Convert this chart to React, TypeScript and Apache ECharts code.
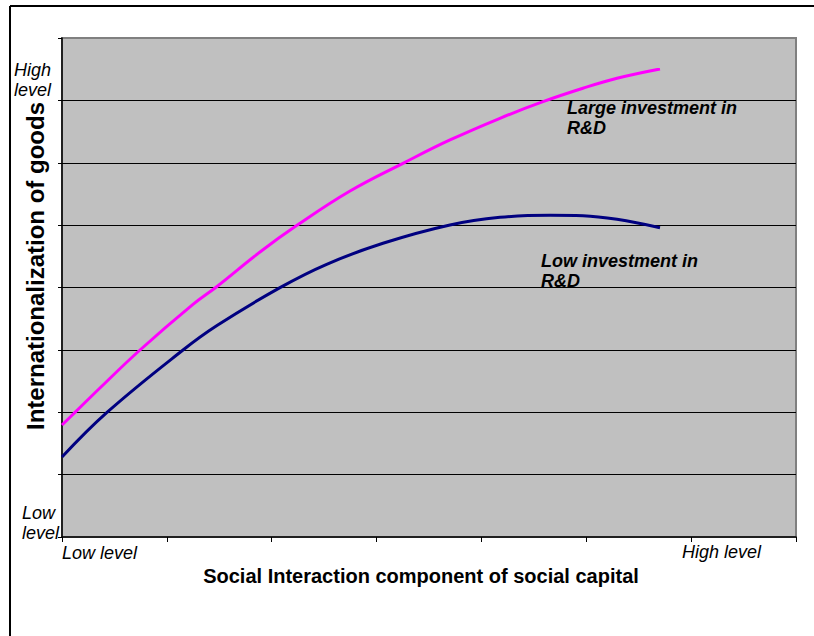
import React, { useEffect, useRef } from "react";
import * as echarts from "echarts";

const largeX = [0, 0.124, 0.362, 0.744, 1.249, 1.478, 1.888, 2.241, 2.747, 3.271, 3.7, 4.177, 4.587, 4.968, 5.293, 5.703];
const largeY = [1.796, 1.998, 2.389, 2.998, 3.729, 4.016, 4.569, 4.997, 5.547, 6.007, 6.365, 6.713, 6.979, 7.194, 7.354, 7.503];
const lowX = [0, 0.429, 1.154, 1.478, 2.079, 2.524, 3.061, 3.7, 4.177, 4.654, 4.969, 5.293, 5.703];
const lowY = [1.283, 1.998, 2.998, 3.391, 3.998, 4.372, 4.709, 5.002, 5.125, 5.158, 5.151, 5.093, 4.959];

const xTickLabels = ["Low level", "High level"];
const yTickLabels = ["High\nlevel", "Low\nlevel"];
const xTitle = "Social Interaction component of social capital";
const yTitle = "Internationalization of goods";
const seriesNames = ["Large investment in\nR&D", "Low investment in\nR&D"];

const FONT = "'Liberation Sans', Arial, sans-serif";

export default function App() {
  const ref = useRef<HTMLDivElement>(null);
  useEffect(() => {
    if (!ref.current) return;
    const chart = echarts.init(ref.current, null, { renderer: "svg" });
    const toPairs = (xs: number[], ys: number[]) => xs.map((x, i) => [x, ys[i]]);
    const italic = { fontFamily: FONT, fontStyle: "italic", fontSize: 18, fill: "#000" };
    chart.setOption({
      animation: false,
      backgroundColor: "#fff",
      grid: {
        left: 62,
        top: 38,
        width: 734,
        height: 499,
        show: true,
        backgroundColor: "#C0C0C0",
        borderColor: "#808080",
        borderWidth: 2,
      },
      xAxis: {
        type: "value",
        min: 0,
        max: 7,
        interval: 1,
        axisLine: { show: true, onZero: false, lineStyle: { color: "#000", width: 1.5 } },
        axisTick: { show: true, length: 5, lineStyle: { color: "#000" } },
        axisLabel: { show: false },
        splitLine: { show: false },
      },
      yAxis: {
        type: "value",
        min: 0,
        max: 8,
        interval: 1,
        axisLine: { show: true, onZero: false, lineStyle: { color: "#000", width: 1.5 } },
        axisTick: { show: true, length: 4, lineStyle: { color: "#000" } },
        axisLabel: { show: false },
        splitLine: {
          show: true,
          showMinLine: false,
          showMaxLine: false,
          lineStyle: { color: "#000", width: 1 },
        },
      },
      series: [
        {
          name: seriesNames[0],
          type: "line",
          smooth: 0.4,
          showSymbol: false,
          data: toPairs(largeX, largeY),
          lineStyle: { color: "#FF00FF", width: 3 },
          itemStyle: { color: "#FF00FF" },
        },
        {
          name: seriesNames[1],
          type: "line",
          smooth: 0.4,
          showSymbol: false,
          data: toPairs(lowX, lowY),
          lineStyle: { color: "#000080", width: 3 },
          itemStyle: { color: "#000080" },
        },
      ],
      graphic: [
        { type: "line", shape: { x1: 10, y1: 6, x2: 814, y2: 6 }, style: { stroke: "#000", lineWidth: 2 } },
        { type: "line", shape: { x1: 10, y1: 6, x2: 10, y2: 636 }, style: { stroke: "#000", lineWidth: 2 } },
        {
          type: "text",
          x: 62,
          y: 553,
          style: { ...italic, text: xTickLabels[0], textAlign: "left", textVerticalAlign: "middle" },
        },
        {
          type: "text",
          x: 682,
          y: 552,
          style: { ...italic, text: xTickLabels[1], textAlign: "left", textVerticalAlign: "middle" },
        },
        {
          type: "text",
          x: 14,
          y: 60,
          style: { ...italic, text: yTickLabels[0], textAlign: "left", textVerticalAlign: "top", lineHeight: 20 },
        },
        {
          type: "text",
          x: 22,
          y: 503,
          style: { ...italic, text: yTickLabels[1], textAlign: "left", textVerticalAlign: "top", lineHeight: 20 },
        },
        {
          type: "text",
          x: 421,
          y: 576,
          style: {
            text: xTitle,
            fontFamily: FONT,
            fontWeight: "bold",
            fontSize: 20,
            fill: "#000",
            textAlign: "center",
            textVerticalAlign: "middle",
          },
        },
        {
          type: "text",
          x: 35,
          y: 266,
          rotation: Math.PI / 2,
          style: {
            text: yTitle,
            fontFamily: FONT,
            fontWeight: "bold",
            fontSize: 24,
            fill: "#000",
            textAlign: "center",
            textVerticalAlign: "middle",
          },
        },
        {
          type: "text",
          x: 567,
          y: 98,
          style: {
            text: seriesNames[0],
            fontFamily: FONT,
            fontWeight: "bold",
            fontStyle: "italic",
            fontSize: 18,
            lineHeight: 20,
            fill: "#000",
            textAlign: "left",
            textVerticalAlign: "top",
          },
        },
        {
          type: "text",
          x: 541,
          y: 251,
          style: {
            text: seriesNames[1],
            fontFamily: FONT,
            fontWeight: "bold",
            fontStyle: "italic",
            fontSize: 18,
            lineHeight: 20,
            fill: "#000",
            textAlign: "left",
            textVerticalAlign: "top",
          },
        },
      ],
    });
    return () => chart.dispose();
  }, []);
  return (
    <div
      ref={ref}
      style={{ position: "fixed", left: 0, top: 0, width: 814, height: 636, background: "#fff" }}
    />
  );
}
